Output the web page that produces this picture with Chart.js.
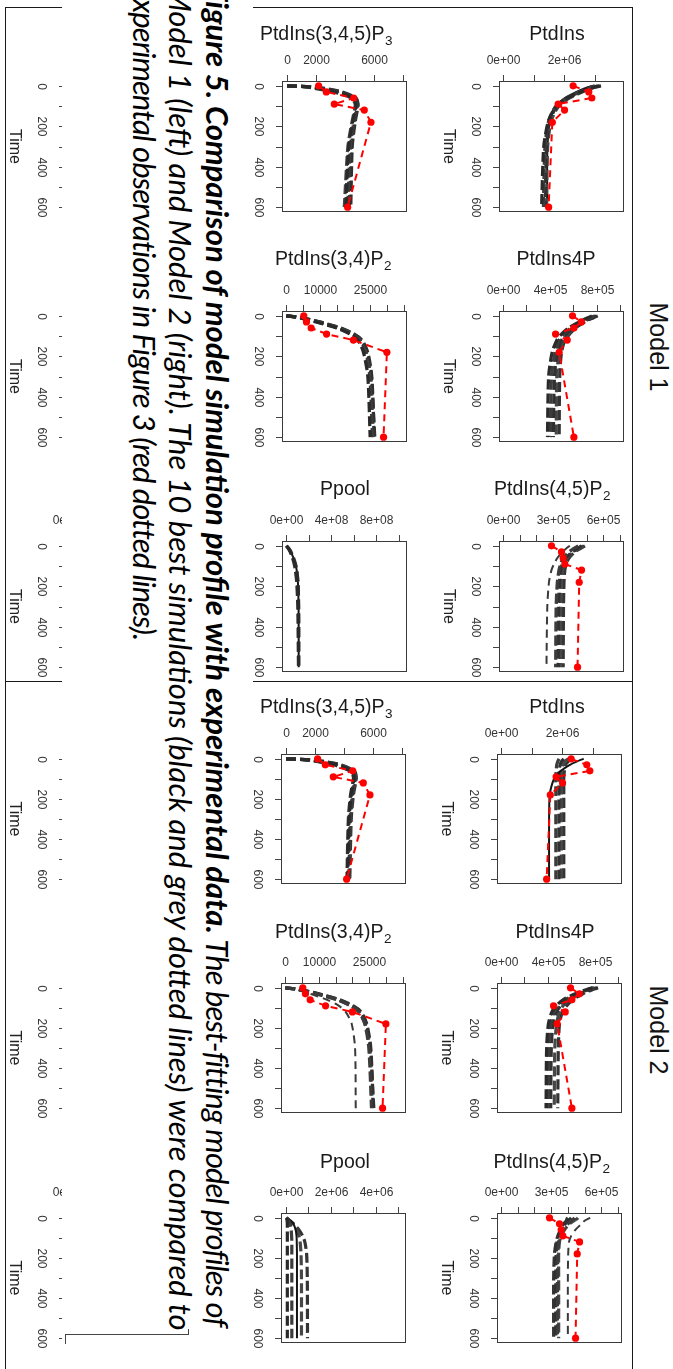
<!DOCTYPE html>
<html>
<head>
<meta charset="utf-8">
<script src="https://cdn.jsdelivr.net/npm/chart.js@4.4.1/dist/chart.umd.min.js"></script>
<style>
html,body{margin:0;padding:0;background:#fff;}
#page{position:relative;width:673px;height:1369px;overflow:hidden;background:#fff;}
#page canvas{position:absolute;}
.hl{position:absolute;height:0;border-top:1px solid #1a1a1a;}
.vl{position:absolute;width:0;border-left:1px solid #1a1a1a;}
.model{position:absolute;font-family:"Liberation Sans",Arial,sans-serif;font-size:25px;color:#111;white-space:nowrap;transform:translate(-50%,-50%) rotate(90deg);}
#caption{position:absolute;left:62px;top:0;width:191px;height:1369px;background:#fff;overflow:hidden;z-index:5;}
#capText{position:absolute;left:0;top:0;transform-origin:0 0;font-family:Lato,"Open Sans",sans-serif;font-style:italic;color:#000;white-space:nowrap;line-height:36.5px;font-size:24.5px;}
#capText div{height:36.5px;}
.br{position:absolute;border-color:#444;border-style:solid;border-width:0;}
</style>
</head>
<body>
<div id="page">
  <div class="hl" style="left:5px;top:7px;width:627px;"></div>
  <div class="hl" style="left:5px;top:681px;width:627px;"></div>
  <div class="vl" style="left:5px;top:7px;height:1362px;"></div>
  <div class="vl" style="left:632px;top:7px;height:1362px;"></div>
  <div class="model" style="left:658px;top:347px;">Model 1</div>
  <div class="model" style="left:658px;top:1030px;">Model 2</div>
  <div id="caption">
    <div id="capText">
      <div><span id="ln1"><b id="ln1b">Figure 5. Comparison of model simulation profile with experimental data.</b><span id="ln1r"> The best-fitting model profiles of</span></span></div>
      <div><span id="ln2">Model 1 (left) and Model 2 (right). The 10 best simulations (black and grey dotted lines) were compared to</span></div>
      <div><span id="ln3">experimental observations in Figure 3 (red dotted lines).</span></div>
    </div>
    <div class="br" style="left:3px;top:1334px;width:123px;height:9px;border-top-width:1px;border-left-width:1px;"></div>
    <div class="br" style="left:126px;top:1329px;width:0;height:5px;border-left-width:1px;"></div>
  </div>
</div>
<script>
// ---------------- DATA ----------------
const TIME_SIM = [0, 5, 15, 30, 60, 90, 120, 180, 300, 600];
const TIME_EXP = [0, 30, 60, 90, 120, 180, 600];
const TIME_TICKS = [0, 100, 200, 300, 400, 500, 600];
const TIME_LABELS = ['0', '', '200', '', '400', '', '600'];

// experimental observations (red)
const EXP_PTDINS    = [2.29e6, 2.80e6, 2.90e6, 1.80e6, 2.01e6, 1.61e6, 1.49e6];
const EXP_PTDINS4P  = [5.94e5, 6.70e5, 6.06e5, 4.49e5, 5.49e5, 4.80e5, 6.06e5];
const EXP_PTDINS45P2 = [2.90e5, 3.50e5, 3.60e5, 3.70e5, 4.70e5, 4.56e5, 4.46e5];
const EXP_PTDINS345P3 = [2180, 2710, 4600, 3260, 5330, 5790, 4180];
const EXP_PTDINS34P2 = [5200, 6000, 7400, 12000, 20000, 30000, 29000];

// value-axis ticks and labels
const TICKS_PTDINS = [0, 1e6, 2e6, 3e6];
const LABELS_PTDINS = ['0e+00', '', '2e+06', ''];
const TICKS_PTDINS4P = [0, 2e5, 4e5, 6e5, 8e5, 1e6];
const LABELS_PTDINS4P = ['0e+00', '', '4e+05', '', '8e+05', ''];
const TICKS_PTDINS45P2 = [0, 1e5, 2e5, 3e5, 4e5, 5e5, 6e5, 7e5];
const LABELS_PTDINS45P2 = ['0e+00', '', '', '3e+05', '', '', '6e+05', ''];
const TICKS_PTDINS345P3 = [0, 2000, 4000, 6000, 8000];
const LABELS_PTDINS345P3 = ['0', '2000', '', '6000', ''];
const TICKS_PTDINS34P2 = [0, 5000, 10000, 15000, 20000, 25000, 30000, 35000];
const LABELS_PTDINS34P2 = ['0', '', '10000', '', '', '25000', '', ''];
const TICKS_PPOOL_M1 = [0, 2e8, 4e8, 6e8, 8e8, 1e9];
const LABELS_PPOOL_M1 = ['0e+00', '', '4e+08', '', '8e+08', ''];
const TICKS_PPOOL_M2 = [0, 1e6, 2e6, 3e6, 4e6, 5e6];
const LABELS_PPOOL_M2 = ['0e+00', '', '2e+06', '', '4e+06', ''];
const TICKS_HIDDEN = [0];
const LABELS_HIDDEN_TOP = ['0'];
const LABELS_HIDDEN_LOW = ['0e+00'];

// Model 1 best simulations (values at TIME_SIM)
const M1_PTDINS = [
  [3.20e6, 3.05e6, 2.80e6, 2.55e6, 2.10e6, 1.82e6, 1.65e6, 1.47e6, 1.33e6, 1.26e6],
  [3.10e6, 2.98e6, 2.75e6, 2.50e6, 2.08e6, 1.80e6, 1.64e6, 1.48e6, 1.37e6, 1.32e6],
  [3.00e6, 2.90e6, 2.72e6, 2.50e6, 2.10e6, 1.84e6, 1.68e6, 1.52e6, 1.42e6, 1.38e6],
  [3.15e6, 3.02e6, 2.82e6, 2.60e6, 2.18e6, 1.90e6, 1.73e6, 1.56e6, 1.46e6, 1.42e6],
  [2.90e6, 2.80e6, 2.62e6, 2.40e6, 2.02e6, 1.78e6, 1.64e6, 1.52e6, 1.45e6, 1.44e6]
];
const M1_PTDINS4P = [
  [7.6e5, 7.4e5, 7.0e5, 6.5e5, 5.6e5, 5.0e5, 4.6e5, 4.2e5, 3.9e5, 3.8e5],
  [7.8e5, 7.6e5, 7.2e5, 6.7e5, 5.8e5, 5.2e5, 4.8e5, 4.45e5, 4.15e5, 4.05e5],
  [8.0e5, 7.8e5, 7.4e5, 6.9e5, 6.0e5, 5.4e5, 5.0e5, 4.65e5, 4.4e5, 4.3e5],
  [7.9e5, 7.7e5, 7.35e5, 6.9e5, 6.1e5, 5.55e5, 5.15e5, 4.8e5, 4.6e5, 4.55e5],
  [8.1e5, 7.9e5, 7.5e5, 7.0e5, 6.2e5, 5.7e5, 5.3e5, 5.0e5, 4.85e5, 4.8e5]
];
const M1_PTDINS45P2 = [
  [4.0e5, 3.9e5, 3.75e5, 3.55e5, 3.25e5, 3.05e5, 2.9e5, 2.75e5, 2.65e5, 2.6e5],
  [4.5e5, 4.4e5, 4.2e5, 3.95e5, 3.6e5, 3.45e5, 3.35e5, 3.25e5, 3.18e5, 3.15e5],
  [4.7e5, 4.6e5, 4.4e5, 4.15e5, 3.75e5, 3.55e5, 3.45e5, 3.38e5, 3.32e5, 3.3e5],
  [4.8e5, 4.7e5, 4.5e5, 4.2e5, 3.85e5, 3.68e5, 3.58e5, 3.5e5, 3.45e5, 3.45e5],
  [4.9e5, 4.8e5, 4.6e5, 4.3e5, 3.95e5, 3.78e5, 3.7e5, 3.65e5, 3.62e5, 3.6e5]
];
const M1_PTDINS345P3 = [
  [0, 1400, 2300, 3400, 4550, 4750, 4700, 4520, 4250, 4050],
  [0, 1600, 2530, 3560, 4640, 4830, 4780, 4600, 4370, 4180],
  [0, 1800, 2800, 3800, 4750, 4900, 4850, 4700, 4500, 4400],
  [0, 1300, 2100, 3200, 4450, 4700, 4650, 4480, 4200, 3950],
  [0, 1700, 2650, 3700, 4700, 4880, 4820, 4650, 4450, 4300]
];
const M1_PTDINS34P2 = [
  [0, 2500, 5200, 8800, 15000, 19000, 21300, 23000, 24300, 25000],
  [0, 2700, 5700, 9400, 15700, 19700, 22000, 23700, 24900, 25700],
  [0, 3000, 6200, 10000, 16300, 20300, 22600, 24300, 25500, 26200],
  [0, 2600, 5500, 9200, 15400, 19500, 21900, 23800, 25200, 26000],
  [0, 2900, 6000, 9800, 16000, 20000, 22300, 24000, 25300, 26400]
];
const M1_PPOOL = [
  [0.01e8, 0.08e8, 0.22e8, 0.38e8, 0.60e8, 0.78e8, 0.90e8, 1.02e8, 1.08e8, 1.09e8],
  [0.02e8, 0.10e8, 0.26e8, 0.42e8, 0.65e8, 0.82e8, 0.93e8, 1.04e8, 1.10e8, 1.11e8],
  [0.01e8, 0.07e8, 0.20e8, 0.34e8, 0.55e8, 0.70e8, 0.80e8, 0.92e8, 1.02e8, 1.08e8],
  [0.02e8, 0.09e8, 0.24e8, 0.40e8, 0.63e8, 0.80e8, 0.92e8, 1.03e8, 1.09e8, 1.10e8]
];

// Model 2 best simulations
const M2_PTDINS = [
  [2.70e6, 2.60e6, 2.45e6, 2.25e6, 1.95e6, 1.77e6, 1.68e6, 1.59e6, 1.57e6, 1.57e6],
  [1.90e6, 1.88e6, 1.85e6, 1.82e6, 1.80e6, 1.79e6, 1.79e6, 1.79e6, 1.79e6, 1.79e6],
  [2.05e6, 2.02e6, 1.97e6, 1.93e6, 1.90e6, 1.89e6, 1.89e6, 1.89e6, 1.89e6, 1.89e6],
  [2.20e6, 2.15e6, 2.08e6, 2.02e6, 1.99e6, 1.97e6, 1.97e6, 1.97e6, 1.97e6, 1.97e6],
  [2.30e6, 2.25e6, 2.18e6, 2.10e6, 2.07e6, 2.05e6, 2.05e6, 2.05e6, 2.05e6, 2.05e6]
];
const M2_PTDINS4P = [
  [7.8e5, 7.5e5, 7.0e5, 6.3e5, 5.3e5, 4.7e5, 4.35e5, 4.05e5, 3.9e5, 3.85e5],
  [8.0e5, 7.7e5, 7.2e5, 6.5e5, 5.5e5, 4.9e5, 4.55e5, 4.25e5, 4.1e5, 4.05e5],
  [8.2e5, 7.9e5, 7.4e5, 6.7e5, 5.7e5, 5.1e5, 4.75e5, 4.45e5, 4.3e5, 4.25e5],
  [7.9e5, 7.6e5, 7.2e5, 6.6e5, 5.8e5, 5.3e5, 5.0e5, 4.75e5, 4.6e5, 4.55e5],
  [8.3e5, 8.0e5, 7.6e5, 7.0e5, 6.1e5, 5.6e5, 5.25e5, 5.0e5, 4.9e5, 4.85e5]
];
const M2_PTDINS45P2 = [
  [5.34e5, 5.2e5, 5.0e5, 4.82e5, 4.45e5, 4.2e5, 4.07e5, 4.02e5, 4.0e5, 4.0e5],
  [4.4e5, 4.35e5, 4.2e5, 4.0e5, 3.7e5, 3.55e5, 3.45e5, 3.4e5, 3.38e5, 3.38e5],
  [4.2e5, 4.15e5, 4.0e5, 3.85e5, 3.6e5, 3.45e5, 3.35e5, 3.3e5, 3.28e5, 3.28e5],
  [4.6e5, 4.55e5, 4.35e5, 4.1e5, 3.8e5, 3.6e5, 3.5e5, 3.45e5, 3.45e5, 3.45e5],
  [4.0e5, 3.95e5, 3.9e5, 3.75e5, 3.55e5, 3.4e5, 3.3e5, 3.2e5, 3.15e5, 3.15e5]
];
const M2_PTDINS345P3 = [
  [0, 1500, 2500, 3500, 4500, 4700, 4650, 4500, 4350, 4250],
  [0, 1700, 2700, 3700, 4650, 4800, 4750, 4600, 4450, 4350],
  [0, 1300, 2300, 3300, 4400, 4650, 4600, 4450, 4300, 4200],
  [0, 1600, 2600, 3650, 4600, 4780, 4720, 4580, 4420, 4330],
  [0, 1800, 2800, 3800, 4700, 4850, 4800, 4650, 4500, 4400]
];
const M2_PTDINS34P2 = [
  [0, 2000, 4500, 7500, 12500, 16000, 18000, 19800, 20800, 21000],
  [0, 2700, 5700, 9400, 15700, 19700, 22000, 23700, 24900, 25700],
  [0, 3000, 6200, 10000, 16300, 20300, 22600, 24300, 25500, 26200],
  [0, 2600, 5500, 9200, 15400, 19500, 21900, 23800, 25200, 26000],
  [0, 2900, 6000, 9800, 16000, 20000, 22300, 24000, 25300, 26400]
];
const M2_PPOOL = [
  [0.02e6, 0.04e6, 0.05e6, 0.06e6, 0.06e6, 0.06e6, 0.06e6, 0.06e6, 0.06e6, 0.06e6],
  [0.02e6, 0.06e6, 0.12e6, 0.18e6, 0.23e6, 0.25e6, 0.26e6, 0.26e6, 0.26e6, 0.26e6],
  [0.02e6, 0.10e6, 0.22e6, 0.33e6, 0.43e6, 0.47e6, 0.48e6, 0.49e6, 0.49e6, 0.49e6],
  [0.02e6, 0.07e6, 0.15e6, 0.30e6, 0.48e6, 0.58e6, 0.63e6, 0.67e6, 0.69e6, 0.69e6],
  [0.02e6, 0.08e6, 0.17e6, 0.35e6, 0.58e6, 0.74e6, 0.84e6, 0.92e6, 0.95e6, 0.96e6]
];

// ---------------- LAYOUT / STYLE ----------------
const SIM_COLORS = ['#2a2a2a', '#3c3c3c', '#303030', '#474747', '#343434'];
const CAP_LEN = {ln1: 1338, ln2: 1346, ln3: 653};
const PAD = {l: 62, t: 66, r: 6, b: 6};
const R_PTDINS = [-0.13e6, 3.95e6], R_4P = [-0.34e5, 10.34e5], R_45 = [-0.24e5, 7.24e5],
      R_345 = [-345, 8276], R_34 = [-1300, 36000], R_PP1 = [-0.386e8, 10.74e8], R_PP2 = [-0.222e6, 5.35e6],
      R_HID = [-0.033, 1];

const PANELS = [
  // Model 1
  {left:499, top:81,  w:125, h:131, title:'PtdIns', sub:'', dx:58, dy:-41.5, sims:M1_PTDINS, exp:EXP_PTDINS, ticks:TICKS_PTDINS, labels:LABELS_PTDINS, range:R_PTDINS, solid:[4]},
  {left:499, top:311, w:125, h:131, title:'PtdIns4P', sub:'', dx:57, dy:-46.5, sims:M1_PTDINS4P, exp:EXP_PTDINS4P, ticks:TICKS_PTDINS4P, labels:LABELS_PTDINS4P, range:R_4P},
  {left:499, top:541, w:125, h:131, title:'PtdIns(4,5)P', sub:'2', dx:53, dy:-46.5, sims:M1_PTDINS45P2, exp:EXP_PTDINS45P2, ticks:TICKS_PTDINS45P2, labels:LABELS_PTDINS45P2, range:R_45, thin:[0]},
  {left:282, top:81,  w:125, h:131, title:'PtdIns(3,4,5)P', sub:'3', dx:44, dy:-41.5, sims:M1_PTDINS345P3, exp:EXP_PTDINS345P3, ticks:TICKS_PTDINS345P3, labels:LABELS_PTDINS345P3, range:R_345},
  {left:282, top:311, w:125, h:131, title:'PtdIns(3,4)P', sub:'2', dx:51, dy:-46, sims:M1_PTDINS34P2, exp:EXP_PTDINS34P2, ticks:TICKS_PTDINS34P2, labels:LABELS_PTDINS34P2, range:R_34},
  {left:282, top:541, w:125, h:131, title:'Ppool', sub:'', dx:63, dy:-46, sims:M1_PPOOL, exp:null, ticks:TICKS_PPOOL_M1, labels:LABELS_PPOOL_M1, range:R_PP1, solid:[3]},
  {left:65, top:81,  w:125, h:131, ticks:TICKS_HIDDEN, labels:LABELS_HIDDEN_TOP, range:R_HID},
  {left:65, top:311, w:125, h:131, ticks:TICKS_HIDDEN, labels:LABELS_HIDDEN_TOP, range:R_HID},
  {left:65, top:541, w:125, h:131, ticks:TICKS_HIDDEN, labels:LABELS_HIDDEN_LOW, range:R_HID},
  // Model 2
  {left:497, top:754,  w:125, h:130, title:'PtdIns', sub:'', dx:60, dy:-41, sims:M2_PTDINS, exp:EXP_PTDINS, ticks:TICKS_PTDINS, labels:LABELS_PTDINS, range:R_PTDINS, solid:[0]},
  {left:497, top:983,  w:125, h:130, title:'PtdIns4P', sub:'', dx:58, dy:-45, sims:M2_PTDINS4P, exp:EXP_PTDINS4P, ticks:TICKS_PTDINS4P, labels:LABELS_PTDINS4P, range:R_4P},
  {left:497, top:1213, w:125, h:130, title:'PtdIns(4,5)P', sub:'2', dx:54.5, dy:-45, sims:M2_PTDINS45P2, exp:EXP_PTDINS45P2, ticks:TICKS_PTDINS45P2, labels:LABELS_PTDINS45P2, range:R_45, thin:[0]},
  {left:281, top:754,  w:125, h:130, title:'PtdIns(3,4,5)P', sub:'3', dx:45, dy:-41, sims:M2_PTDINS345P3, exp:EXP_PTDINS345P3, ticks:TICKS_PTDINS345P3, labels:LABELS_PTDINS345P3, range:R_345},
  {left:281, top:983,  w:125, h:130, title:'PtdIns(3,4)P', sub:'2', dx:52, dy:-45, sims:M2_PTDINS34P2, exp:EXP_PTDINS34P2, ticks:TICKS_PTDINS34P2, labels:LABELS_PTDINS34P2, range:R_34, thin:[0]},
  {left:281, top:1213, w:125, h:130, title:'Ppool', sub:'', dx:64, dy:-45, sims:M2_PPOOL, exp:null, ticks:TICKS_PPOOL_M2, labels:LABELS_PPOOL_M2, range:R_PP2, solid:[2]},
  {left:65, top:754,  w:125, h:130, ticks:TICKS_HIDDEN, labels:LABELS_HIDDEN_TOP, range:R_HID},
  {left:65, top:983,  w:125, h:130, ticks:TICKS_HIDDEN, labels:LABELS_HIDDEN_TOP, range:R_HID},
  {left:65, top:1213, w:125, h:130, ticks:TICKS_HIDDEN, labels:LABELS_HIDDEN_LOW, range:R_HID}
];

const FONT = '"Liberation Sans", Arial, Helvetica, sans-serif';
Chart.defaults.font.family = FONT;

// axes, box and titles drawn from the chart's own scales
function decoPlugin(p) {
  return {
    id: 'deco',
    afterDraw(chart) {
      const ctx = chart.ctx, a = chart.chartArea, xs = chart.scales.x, ys = chart.scales.y;
      const L = Math.round(a.left), T = Math.round(a.top), R = Math.round(a.right), B = Math.round(a.bottom);
      ctx.save();
      ctx.strokeStyle = '#3a3a3a'; ctx.lineWidth = 1;
      ctx.strokeRect(L + 0.5, T + 0.5, R - L - 1, B - T - 1);
      ctx.strokeStyle = '#444';
      ctx.fillStyle = '#333';
      ctx.font = '12px ' + FONT;
      ctx.textAlign = 'center'; ctx.textBaseline = 'middle';
      p.ticks.forEach((v, i) => {
        const px = Math.round(xs.getPixelForValue(v)) + 0.5;
        ctx.beginPath(); ctx.moveTo(px, T - 6); ctx.lineTo(px, T + 0.5); ctx.stroke();
        if (p.labels[i]) ctx.fillText(p.labels[i], px, T - 20);
      });
      TIME_TICKS.forEach((v, i) => {
        const py = Math.round(ys.getPixelForValue(v)) + 0.5;
        ctx.beginPath(); ctx.moveTo(L - 6, py); ctx.lineTo(L + 0.5, py); ctx.stroke();
        const lab = TIME_LABELS[i];
        if (!lab) return;
        ctx.save();
        ctx.translate(L - 23.5, py);
        ctx.rotate(Math.PI / 2);
        ctx.fillText(lab, 0, 0);
        ctx.restore();
      });
      ctx.font = '16px ' + FONT;
      ctx.fillStyle = '#222';
      ctx.save();
      ctx.translate(L - 51, (T + B) / 2);
      ctx.rotate(Math.PI / 2);
      ctx.fillText('Time', 0, 0);
      ctx.restore();
      if (p.title) {
        const mainF = '19.5px ' + FONT, subF = '13.5px ' + FONT;
        ctx.fillStyle = '#1a1a1a';
        ctx.textAlign = 'left'; ctx.textBaseline = 'alphabetic';
        ctx.font = mainF; const w1 = ctx.measureText(p.title).width;
        ctx.font = subF; const w2 = p.sub ? ctx.measureText(p.sub).width : 0;
        const x0 = L + p.dx - (w1 + w2) / 2, yb = T + p.dy;
        ctx.font = mainF; ctx.fillText(p.title, x0, yb);
        if (p.sub) { ctx.font = subF; ctx.fillText(p.sub, x0 + w1 + 0.5, yb + 5); }
      }
      ctx.restore();
    }
  };
}

function makePanel(p) {
  const page = document.getElementById('page');
  const W = p.w + PAD.l + PAD.r, H = p.h + PAD.t + PAD.b;
  const cv = document.createElement('canvas');
  cv.width = W; cv.height = H;
  cv.style.left = (p.left - PAD.l) + 'px';
  cv.style.top = (p.top - PAD.t) + 'px';
  cv.style.width = W + 'px'; cv.style.height = H + 'px';
  page.insertBefore(cv, document.getElementById('caption'));
  const datasets = [];
  if (p.exp) {
    datasets.push({
      label: 'Experimental',
      data: TIME_EXP.map((t, i) => ({x: p.exp[i], y: t})),
      borderColor: '#ff0000', backgroundColor: '#ff0000', borderWidth: 2, borderDash: [7, 5],
      pointRadius: 3.6, pointBackgroundColor: '#ff0000', pointBorderWidth: 0, tension: 0
    });
  }
  (p.sims || []).forEach((s, k) => {
    const solid = (p.solid || []).includes(k), thin = (p.thin || []).includes(k);
    datasets.push({
      label: 'Simulation ' + (k + 1),
      data: TIME_SIM.map((t, i) => ({x: s[i], y: t})),
      borderColor: solid ? '#141414' : (thin ? '#3a3a3a' : SIM_COLORS[k % SIM_COLORS.length]),
      borderWidth: solid ? 2 : (thin ? 2 : 3.2),
      borderDash: solid ? [] : (thin ? [8, 5] : [10, 4]),
      pointRadius: 0, tension: 0.25
    });
  });
  new Chart(cv, {
    type: 'line',
    data: {datasets},
    options: {
      responsive: false, animation: false, devicePixelRatio: 1, indexAxis: 'y',
      layout: {padding: {left: PAD.l, top: PAD.t, right: PAD.r, bottom: PAD.b}},
      plugins: {legend: {display: false}, tooltip: {enabled: false}},
      scales: {
        x: {type: 'linear', display: false, min: p.range[0], max: p.range[1], bounds: 'data'},
        y: {type: 'linear', display: false, reverse: true, min: -24, max: 624, bounds: 'data'}
      }
    },
    plugins: [decoPlugin(p)]
  });
}

function fitCaption() {
  const cap = document.getElementById('capText');
  const base = 24.5;
  cap.style.fontSize = base + 'px';
  const w2 = document.getElementById('ln2').offsetWidth;
  const fs = w2 > 0 ? base * CAP_LEN.ln2 / w2 : base;
  cap.style.fontSize = fs.toFixed(2) + 'px';
  // line 1: keep the bold part natural, tighten the regular part only
  const b = document.getElementById('ln1b'), r = document.getElementById('ln1r');
  const wb = b.offsetWidth, wr = r.offsetWidth, nr = r.textContent.length;
  if (wr > 0 && nr > 0) r.style.letterSpacing = ((CAP_LEN.ln1 - wb - wr) / nr).toFixed(3) + 'px';
  const l3 = document.getElementById('ln3');
  const w3 = l3.offsetWidth, n3 = l3.textContent.length;
  if (w3 > 0 && n3 > 0) l3.style.letterSpacing = ((CAP_LEN.ln3 - w3) / n3).toFixed(3) + 'px';
  cap.style.transform = 'translate(173.5px, -15px) rotate(90deg)';
}

fitCaption();
PANELS.forEach(makePanel);
</script>
</body>
</html>
